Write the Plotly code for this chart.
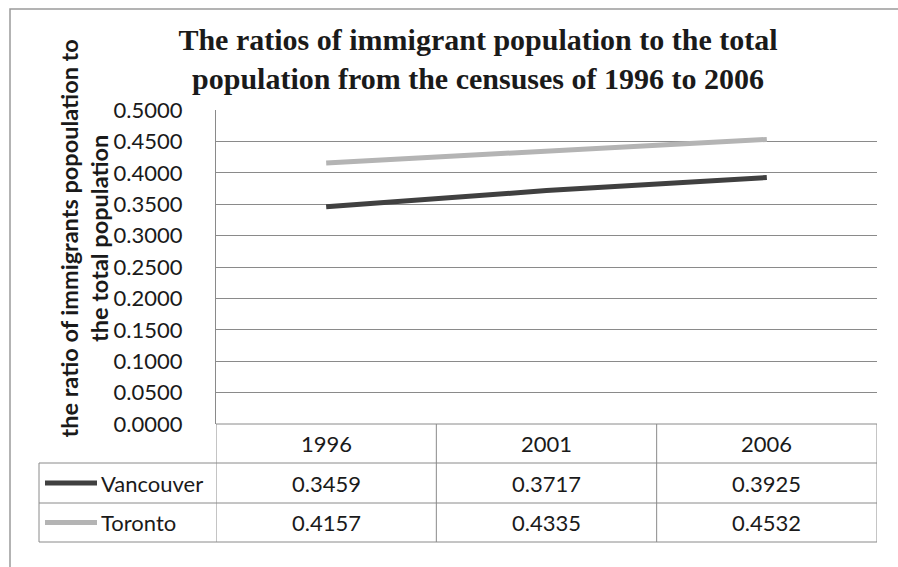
import plotly.graph_objects as go

years = ["1996", "2001", "2006"]
vancouver = [0.3459, 0.3717, 0.3925]
toronto = [0.4157, 0.4335, 0.4532]
series_names = ["Vancouver", "Toronto"]
series_colors = ["#404040", "#b4b4b4"]
y_ticks = [0.0, 0.05, 0.1, 0.15, 0.2, 0.25, 0.3, 0.35, 0.4, 0.45, 0.5]

W, H = 898, 567
L, R, T, B = 216, 877, 110, 424  # plot area pixels


def xp(px):
    return (px - L) / (R - L)


def yp(py):
    return (B - py) / (B - T)


xidx = list(range(len(years)))
fig = go.Figure()
for name, vals, col in zip(series_names, [vancouver, toronto], series_colors):
    fig.add_trace(go.Scatter(x=xidx, y=vals, mode="lines", name=name,
                             line=dict(color=col, width=5), showlegend=False))

grid = "#8a8a8a"
sans = "Lato"

fig.update_layout(
    width=W, height=H,
    margin=dict(l=L, r=W - R, t=T, b=H - B),
    paper_bgcolor="white", plot_bgcolor="white",
    title=dict(text="<b>The ratios of immigrant population to the total<br>population from the censuses of 1996 to 2006</b>",
               x=478 / W, xanchor="center", xref="container",
               y=1 - 50 / H, yanchor="top", yref="container",
               font=dict(family="Liberation Serif", size=30, color="#1a1a1a")),
    xaxis=dict(range=[-0.5, len(years) - 0.5], showticklabels=False, showgrid=False,
               zeroline=False, showline=False, ticks=""),
    yaxis=dict(range=[0, 0.5], tickvals=y_ticks, tickformat=".4f", showgrid=True,
               gridcolor=grid, gridwidth=1, zeroline=False, showline=True,
               linecolor=grid, linewidth=1, ticks="", ticklabelstandoff=28,
               tickfont=dict(family=sans, size=22, color="#1a1a1a")),
)

shapes = []
line = dict(color=grid, width=1)
# table horizontal lines
shapes.append(dict(type="line", xref="paper", yref="paper", x0=0, x1=1, y0=0, y1=0, line=line))
for py in [463, 503, 542]:
    shapes.append(dict(type="line", xref="paper", yref="paper", x0=xp(39), x1=1, y0=yp(py), y1=yp(py), line=line))
# table vertical lines at category boundaries
for b in [i - 0.5 for i in range(len(years) + 1)]:
    shapes.append(dict(type="line", xref="x", yref="paper", x0=b, x1=b, y0=0, y1=yp(542), line=line))
shapes.append(dict(type="line", xref="paper", yref="paper", x0=xp(39), x1=xp(39), y0=yp(463), y1=yp(542), line=line))
# outer border
shapes.append(dict(type="rect", xref="paper", yref="paper", x0=xp(10), x1=xp(905), y0=yp(9), y1=yp(580),
                   line=dict(color="#9a9a9a", width=1.5)))
# legend keys in table
row_centers = [483, 522.5]
for col, py in zip(series_colors, row_centers):
    shapes.append(dict(type="line", xref="paper", yref="paper", x0=xp(45), x1=xp(97), y0=yp(py), y1=yp(py),
                       line=dict(color=col, width=5)))
fig.update_layout(shapes=shapes)

ann = []
# header row
for i, yr in enumerate(years):
    ann.append(dict(x=i, xref="x", y=yp(443.5), yref="paper", text=yr, showarrow=False,
                    xanchor="center", yanchor="middle", font=dict(family=sans, size=22, color="#1a1a1a")))
for name, vals, py in zip(series_names, [vancouver, toronto], row_centers):
    ann.append(dict(x=xp(99), xref="paper", y=yp(py), yref="paper", text=name, showarrow=False,
                    xanchor="left", yanchor="middle", font=dict(family=sans, size=22, color="#1a1a1a")))
    for i, v in enumerate(vals):
        ann.append(dict(x=i, xref="x", y=yp(py), yref="paper", text=f"{v:.4f}", showarrow=False,
                        xanchor="center", yanchor="middle", font=dict(family=sans, size=22, color="#1a1a1a")))
# y axis title
ann.append(dict(x=xp(83.5), xref="paper", y=yp(239), yref="paper",
                text="<b>the ratio of immigrants popoulation to<br>the total population</b>",
                showarrow=False, textangle=-90, xanchor="center", yanchor="middle",
                font=dict(family=sans, size=23.5, color="#1a1a1a")))
fig.update_layout(annotations=ann)

fig.write_html("out.html")
